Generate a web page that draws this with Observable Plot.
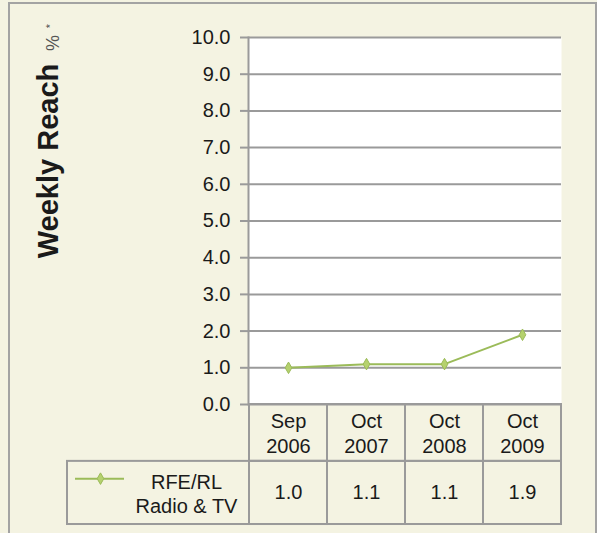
<!DOCTYPE html>
<html>
<head>
<meta charset="utf-8">
<script src="https://cdn.jsdelivr.net/npm/d3@7"></script>
<script src="https://cdn.jsdelivr.net/npm/@observablehq/plot@0.6"></script>
<style>
  html, body { margin: 0; padding: 0; background: #f4f3e2; }
  #wrap { position: relative; width: 597px; height: 533px; overflow: hidden; }
  #border { position: absolute; left: 8px; top: 2px; width: 585px; height: 560px;
            border: 2px solid #a3a3a3; pointer-events: none; }
</style>
</head>
<body>
<div id="wrap"><div id="border"></div></div>
<script>
// ---- data ----
const periods = ["Sep 2006", "Oct 2007", "Oct 2008", "Oct 2009"];
const reach = [1.0, 1.1, 1.1, 1.9];
const yTicks = [0, 1, 2, 3, 4, 5, 6, 7, 8, 9, 10];
const seriesName = "RFE/RL\nRadio & TV";
const axisTitle = "Weekly Reach";
const axisUnit = "%";
const footnoteMark = "*";

// ---- layout (y-units below the zero line for the data table) ----
const headerBottom = -1.55;
const tableBottom = -3.27;
const legendLineY = -2.02;

const rows = periods.map((p, i) => ({period: p, value: reach[i]}));
const green = "#9bbb59";
const grid = "#9a9a9a";
const ink = "#1a1a1a";
const font = "'Liberation Sans', Arial, sans-serif";

const chart = Plot.plot({
  width: 597,
  height: 533,
  marginLeft: 248,
  marginRight: 36,
  marginTop: 37,
  marginBottom: 129,
  style: {background: "#f4f3e2", fontFamily: font, color: ink, overflow: "visible"},
  x: {domain: periods, padding: 0, axis: null},
  y: {domain: [0, 10], axis: null},
  marks: [
    Plot.frame({fill: "white", stroke: null}),
    Plot.ruleY(yTicks, {stroke: grid, strokeWidth: 2}),
    Plot.frame({anchor: "left", stroke: grid, strokeWidth: 2}),
    Plot.axisY({ticks: yTicks, label: null, tickSize: 8, stroke: grid, strokeWidth: 2, tickFormat: () => ""}),
    Plot.axisY({ticks: yTicks, label: null, tickSize: 0, tickPadding: 18, fontSize: 20, fill: ink,
                tickFormat: d => d.toFixed(1)}),
    // table: header row cells
    Plot.barY(periods, {x: d => d, y1: headerBottom, y2: 0, fill: "none", stroke: grid, strokeWidth: 2, inset: 0}),
    // table: data row cells
    Plot.barY(periods, {x: d => d, y1: tableBottom, y2: headerBottom, fill: "none", stroke: grid, strokeWidth: 2, inset: 0}),
    // legend cell (extends left of the first column)
    Plot.barY([periods[0]], {x: d => d, y1: tableBottom, y2: headerBottom, fill: "none", stroke: grid, strokeWidth: 2, insetLeft: -182, insetRight: 0}),
    // header labels
    Plot.text(periods, {x: d => d, y: headerBottom / 2, text: d => d.replace(" ", "\n"),
                        fontSize: 20, lineHeight: 1.25, fill: ink}),
    // data labels
    Plot.text(rows, {x: "period", y: (headerBottom + tableBottom) / 2, text: d => d.value.toFixed(1),
                     fontSize: 20, fill: ink}),
    // legend text & symbol
    Plot.text([seriesName], {x: () => periods[0], y: (headerBottom + tableBottom) / 2, dx: -102,
                             text: d => d, fontSize: 20, lineHeight: 1.2, fill: ink}),
    Plot.tickY([legendLineY], {x: () => periods[0], y: d => d, stroke: green, strokeWidth: 2,
                               insetLeft: -174, insetRight: 203}),
    Plot.dot([legendLineY], {x: () => periods[0], y: d => d, dx: -188, symbol: "diamond",
                             r: 3.5, fill: "#b5d16e", stroke: green, strokeWidth: 1}),
    // series line
    Plot.line(rows, {x: "period", y: "value", stroke: green, strokeWidth: 2}),
    Plot.dot(rows, {x: "period", y: "value", symbol: "diamond", r: 3.5, fill: "#b5d16e", stroke: green, strokeWidth: 1}),
    // y axis title
    Plot.text([axisTitle], {frameAnchor: "left", dx: -191, dy: -60, rotate: -90, textAnchor: "middle",
                            lineAnchor: "bottom", fontSize: 29, fontWeight: "bold", fill: ink, text: d => d}),
    Plot.text([axisUnit], {frameAnchor: "left", dx: -190, dy: -178, rotate: -90, textAnchor: "middle",
                           lineAnchor: "bottom", fontSize: 18, fill: "#555", text: d => d}),
    Plot.text([footnoteMark], {frameAnchor: "left", dx: -195, dy: -195, rotate: -90, textAnchor: "middle",
                               lineAnchor: "bottom", fontSize: 11, fill: "#444", text: d => d})
  ]
});
document.getElementById("wrap").insertBefore(chart, document.getElementById("border"));
</script>
</body>
</html>
